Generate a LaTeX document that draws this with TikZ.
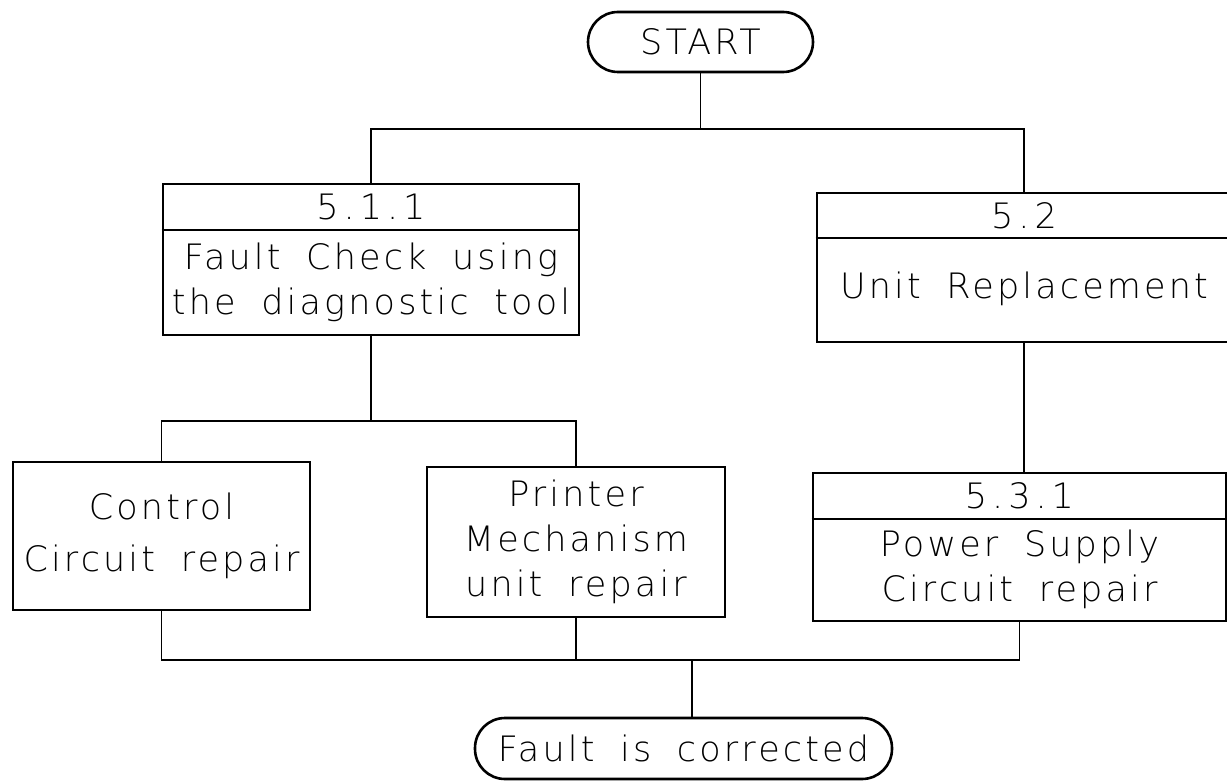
\documentclass[tikz,border=0pt]{standalone}
\usepackage{fontspec}
\IfFontExistsTF{DejaVu Sans ExtraLight}{\setmainfont{DejaVu Sans ExtraLight}[LetterSpace=9,WordSpace=1.8]}{\setmainfont{DejaVu Sans}[LetterSpace=9,WordSpace=1.8]}
\newcommand{\secdot}{\kern5pt.\kern5pt}
\begin{document}
\begin{tikzpicture}[x=1pt,y=-1pt,
  boxshape/.style={draw, line width=2.8pt, rectangle, inner sep=0pt, align=center, font=\fontsize{35}{45}\selectfont},
  pill/.style={draw, line width=2.6pt, rectangle, rounded corners=30pt, inner sep=0pt, font=\fontsize{35}{45}\selectfont},
  conn/.style={line width=1.2pt},
  sepline/.style={line width=2.8pt},
  lbl/.style={inner sep=0pt, align=center, font=\fontsize{35}{45}\selectfont}]
\useasboundingbox (0,0) rectangle (1227,781);

% terminals
\node[pill, minimum width=225pt, minimum height=60pt] (start) at (700.5,42) {START};
\node[pill, minimum width=417pt, minimum height=61pt] (endp) at (683.5,748.5) {Fault is corrected};

% 5.1.1 box
\node[boxshape, minimum width=416pt, minimum height=151pt] (b511) at (371,259.5) {};
\draw[sepline] (b511.west |- 0,230) -- (b511.east |- 0,230);
\node[lbl] (t511) at (371,207) {5\secdot 1\secdot 1};
\node[lbl] (d511) at (371,282) {Fault Check using\\the diagnostic tool};

% 5.2 box
\node[boxshape, minimum width=414pt, minimum height=149pt] (b52) at (1024,267.5) {};
\draw[sepline] (b52.west |- 0,238) -- (b52.east |- 0,238);
\node[lbl] (t52) at (1024,216) {5\secdot 2};
\node[lbl] (d52) at (1024,289) {Unit Replacement};

% 5.3.1 box
\node[boxshape, minimum width=413pt, minimum height=148pt] (b531) at (1019.5,547) {};
\draw[sepline] (b531.west |- 0,519) -- (b531.east |- 0,519);
\node[lbl] (t531) at (1019.5,496) {5\secdot 3\secdot 1};
\node[lbl] (d531) at (1019.5,569) {Power Supply\\Circuit repair};

% repair boxes
\node[boxshape, minimum width=297pt, minimum height=148pt, font=\fontsize{35}{52}\selectfont] (ctrl) at (161.5,536) {Control\\Circuit repair};
\node[boxshape, minimum width=298pt, minimum height=150pt] (print) at (576,542) {Printer\\Mechanism\\unit repair};

% connectors
\coordinate (j1) at (700.5,129);
\draw[conn] (start.south) -- (j1);
\draw[conn] (b511.north) |- (j1) -| (b52.north);

\coordinate (j2) at (371,421);
\draw[conn] (b511.south) -- (j2);
\draw[conn] (ctrl.north) |- (j2) -| (print.north);

\draw[conn] (b52.south) -- (b52.south |- b531.north);

\coordinate (j3) at (692,660);
\draw[conn] (ctrl.south) |- (j3) -| (b531.south);
\draw[conn] (print.south) -- (print.south |- j3);
\draw[conn] (j3) -- (j3 |- endp.north);
\end{tikzpicture}
\end{document}
